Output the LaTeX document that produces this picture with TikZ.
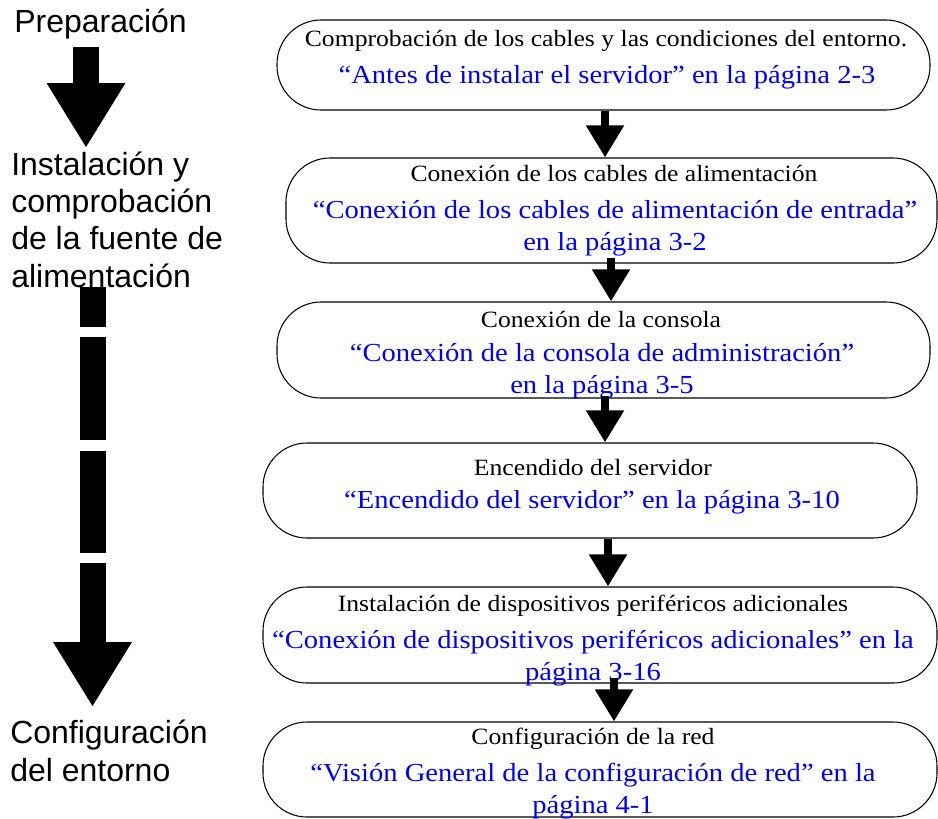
\documentclass[tikz,border=0pt]{standalone}
\usepackage{fontspec}
\setmainfont{Liberation Serif}
\newfontfamily\lsans{Liberation Sans}
\newfontfamily\pserif[FakeStretch=1.1]{Liberation Serif}
\usetikzlibrary{arrows.meta}
\begin{document}
\begin{tikzpicture}[x=0.75pt,y=-0.75pt,
  box/.style={draw, line width=0.8pt, rounded corners=33pt, inner sep=0pt},
  title/.style={font=\pserif\fontsize{17.5}{21}\selectfont, inner sep=0pt},
  link/.style={font=\pserif\fontsize{19.5}{24}\selectfont, text=blue, align=center, inner sep=0pt},
  stage/.style={font=\lsans\fontsize{24}{28}\selectfont, align=left, inner sep=0pt, anchor=base west},
  conn/.style={line width=6pt, -{Triangle[width=27pt,length=24pt]}},
  bigconn/.style={line width=19.5pt, -{Triangle[width=55.5pt,length=48.75pt]}}
]
\useasboundingbox (0,0) rectangle (938,818);

% boxes
\node[box, minimum width=489.75pt, minimum height=67.5pt] (b1) at (603.5,65) {};
\node[box, minimum width=488.25pt, minimum height=78.75pt] (b2) at (611.5,210.5) {};
\node[box, minimum width=489.75pt, minimum height=72pt] (b3) at (603.5,350) {};
\node[box, minimum width=490.5pt, minimum height=71.25pt] (b4) at (590,490.5) {};
\node[box, minimum width=505.5pt, minimum height=72pt] (b5) at (600,635) {};
\node[box, minimum width=505.5pt, minimum height=71.25pt] (b6) at (600,769.5) {};

% texts
\node[title] (t1) at (606,41) {Comprobación de los cables y las condiciones del entorno.};
\node[link] (l1) at (607,77) {“Antes de instalar el servidor” en la página 2-3};
\node[title] (t2) at (614,173) {Conexión de los cables de alimentación};
\node[link] (l2) at (615,228.5) {“Conexión de los cables de alimentación de entrada”\\en la página 3-2};
\node[title] (t3) at (601,319) {Conexión de la consola};
\node[link] (l3) at (602,371) {“Conexión de la consola de administración”\\en la página 3-5};
\node[title] (t4) at (593,468) {Encendido del servidor};
\node[link] (l4) at (592,502) {“Encendido del servidor” en la página 3-10};
\node[title] (t5) at (593,606) {Instalación de dispositivos periféricos adicionales};
\node[link] (l5) at (593,658) {“Conexión de dispositivos periféricos adicionales” en la\\página 3-16};
\node[title] (t6) at (593,739) {Configuración de la red};
\node[link] (l6) at (593,791) {“Visión General de la configuración de red” en la\\página 4-1};

% connectors between boxes
\coordinate (a1) at ([xshift=1.125pt]b1.south);
\coordinate (a2) at ([xshift=-0.375pt,yshift=4.5pt]b2.south);
\coordinate (a3) at ([xshift=1.125pt,yshift=2pt]b3.south);
\coordinate (a4) at ([xshift=13.5pt]b4.south);
\coordinate (a5) at ([xshift=10.5pt,yshift=4.5pt]b5.south);
\draw[conn] (a1) -- (a1 |- b2.north);
\draw[conn] (a2) -- (a2 |- b3.north);
\draw[conn] (a3) -- (a3 |- b4.north);
\draw[conn] (a4) -- (a4 |- b5.north);
\draw[conn] (a5) -- (a5 |- b6.north);

% stage labels (base anchor = baseline of the last line)
\node[stage] (s1) at (14,32) {Preparación};
\node[stage] (s2) at (11,287) {Instalación y\\comprobación\\de la fuente de\\alimentación};
\node[stage] (s3) at (10,781) {Configuración\\del entorno};

% stage arrows
\coordinate (p1s) at (86,47);
\coordinate (p1e) at (86,148);
\coordinate (p2s) at (92.5,287);
\coordinate (p2e) at (92.5,707);
\draw[bigconn] (p1s) -- (p1e);
\draw[bigconn, dash pattern=on 30pt off 7.5pt on 77.25pt off 8.25pt on 76.5pt off 7.5pt on 80pt off 10pt] (p2s) -- (p2e);
\end{tikzpicture}
\end{document}
